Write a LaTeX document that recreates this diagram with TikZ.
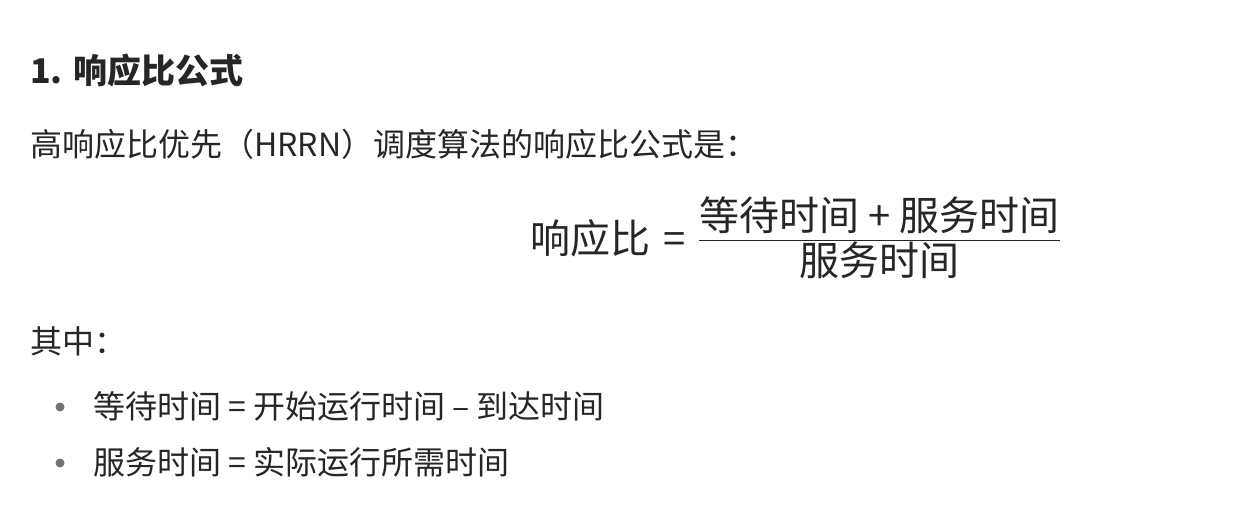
\documentclass[tikz,border=0pt]{standalone}
\usepackage{fix-cm}
\usepackage{fontspec}
\setmainfont{Noto Sans CJK SC}
\newfontfamily\cjk{Noto Sans CJK SC}
\begin{document}
\begin{tikzpicture}[x=1pt,y=-1pt,
  txt/.style={anchor=base west,inner sep=0pt,font=\fontsize{32}{36}\selectfont\cjk,text=black!85}]
\useasboundingbox (0,0) rectangle (1260,524);
\fill[white] (0,0) rectangle (1260,524);
\node[txt,font=\fontsize{34}{38}\selectfont\cjk\bfseries] (h) at (30,84) {1. 响应比公式};
\node[txt] (l1) at (30,156) {高响应比优先（HRRN）调度算法的响应比公式是：};
\node[inner sep=0pt,font=\fontsize{40}{46}\selectfont\cjk,text=black!85] (f) at (795,243)
  {响应比\,\,=\,\,$\vcenter{\hbox{$\begin{array}{@{}c@{}}\mbox{等待时间 + 服务时间}\\[-4pt]\hline\noalign{\vskip2pt}\mbox{服务时间}\end{array}$}}$};
\node[txt] (l2) at (30,353) {其中：};
\fill[black!55] (60,407) circle (4.5) coordinate (b1);
\fill[black!55] (60,463) circle (4.5) coordinate (b2);
\node[txt] (i1) at (93,418) {等待时间 = 开始运行时间 – 到达时间};
\node[txt] (i2) at (93,474) {服务时间 = 实际运行所需时间};
\end{tikzpicture}
\end{document}
